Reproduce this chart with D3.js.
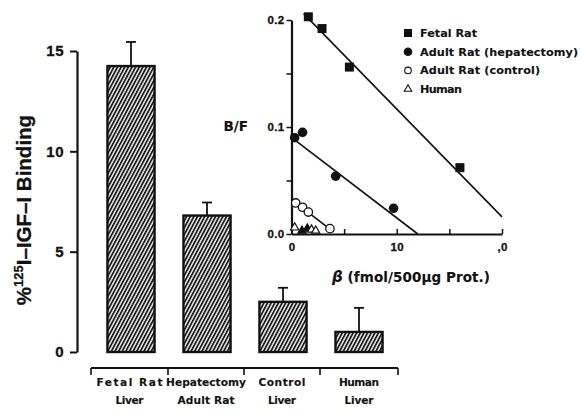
<!DOCTYPE html>
<html><head><meta charset="utf-8">
<script src="https://cdn.jsdelivr.net/npm/d3@7"></script>
<style>body{margin:0;background:#fff}svg{display:block}
text{font-family:"Liberation Sans",Arial,sans-serif;font-weight:bold;fill:#111;stroke:#111;stroke-width:0.3px}
text.dv{font-family:"DejaVu Sans",sans-serif;stroke-width:0.1px}</style>
</head><body>
<script>
// Bar chart data
const categories = [["Fetal Rat","Liver"],["Hepatectomy","Adult Rat"],["Control","Liver"],["Human","Liver"]];
const binding = [14.25, 6.8, 2.5, 1.0];
const bindingErr = [1.2, 0.65, 0.7, 1.2];
const barTicks = [0,5,10,15];

// Scatchard inset data
const fetalX = [1.6, 2.9, 5.5, 16.0];
const fetalY = [0.203, 0.192, 0.156, 0.062];
const hepX = [0.3, 1.05, 4.2, 9.7];
const hepY = [0.090, 0.095, 0.054, 0.024];
const ctrlX = [0.4, 1.05, 1.6, 3.65];
const ctrlY = [0.029, 0.025, 0.0205, 0.005];
const humX = [0.3, 1.0, 1.5, 1.9, 2.3];
const humY = [0.006, 0.003, 0.005, 0.004, 0.003];
// fitted lines (endpoints)
const fetalLineX = [1.15, 20.0], fetalLineY = [0.206, 0.016];
const hepLineX = [0.3, 12.0], hepLineY = [0.088, 0.0];
const ctrlLineX = [0.4, 4.0], ctrlLineY = [0.029, 0.002];
const insetYTicks = [0, 0.05, 0.1, 0.15, 0.2];
const insetYLabels = ["0.0","","0.1","","0.2"];
const insetXTicks = [0, 5, 10, 15, 20];
const insetXLabels = ["0","","10","",",0"];
const legendLabels = ["Fetal Rat","Adult Rat (hepatectomy)","Adult Rat (control)","Human"];

const W=581,H=414;
const svg=d3.select("body").append("svg").attr("width",W).attr("height",H);
const defs=svg.append("defs");
const pat=defs.append("pattern").attr("id","hatch").attr("patternUnits","userSpaceOnUse")
  .attr("width",3.2).attr("height",8).attr("patternTransform","rotate(28)");
pat.append("rect").attr("width",3.2).attr("height",8).attr("fill","#e8e8e8");
pat.append("rect").attr("x",0).attr("y",0).attr("width",1.7).attr("height",8).attr("fill","#1a1a1a");

// ---- Bar chart ----
const y=d3.scaleLinear().domain([0,15]).range([352,51]);
const x=d3.scaleBand().domain(d3.range(categories.length)).range([93,397]).paddingInner(0.38).paddingOuter(0.19);

const yAx=svg.append("g").attr("transform","translate(77,0)")
  .call(d3.axisLeft(y).tickValues(barTicks).tickSize(7).tickSizeOuter(0).tickPadding(6));
yAx.select(".domain").attr("stroke","#111").attr("stroke-width",2.2);
yAx.selectAll(".tick line").attr("stroke","#111").attr("stroke-width",2);
yAx.selectAll(".tick text").style("font-size","15px").style("letter-spacing","0.5px").attr("fill","#111");

const bars=svg.append("g");
binding.forEach((v,i)=>{
  const cx=x(i)+x.bandwidth()/2;
  bars.append("line").attr("x1",cx).attr("x2",cx).attr("y1",y(v)).attr("y2",y(v+bindingErr[i])).attr("stroke","#111").attr("stroke-width",1.8);
  bars.append("line").attr("x1",cx-5).attr("x2",cx+5).attr("y1",y(v+bindingErr[i])).attr("y2",y(v+bindingErr[i])).attr("stroke","#111").attr("stroke-width",1.8);
  bars.append("rect").attr("x",x(i)).attr("y",y(v)).attr("width",x.bandwidth()).attr("height",y(0)-y(v))
    .attr("fill","url(#hatch)").attr("stroke","#111").attr("stroke-width",2.4);
});

// bottom category axis
const xb=svg.append("g");
xb.append("line").attr("x1",91).attr("x2",398).attr("y1",368).attr("y2",368).attr("stroke","#111").attr("stroke-width",2);
const bounds=[91,168,244,320,398];
bounds.forEach(b=>xb.append("line").attr("x1",b).attr("x2",b).attr("y1",368).attr("y2",375).attr("stroke","#111").attr("stroke-width",1.6));
const catW=[[66,28],[80,57],[47,28],[40,29]];
categories.forEach((c,i)=>{
  const cx=(bounds[i]+bounds[i+1])/2;
  c.forEach((t,j)=>xb.append("text").attr("class","dv").attr("x",cx).attr("y",386+j*17.5).attr("text-anchor","middle")
    .attr("textLength",catW[i][j]).attr("lengthAdjust","spacing")
    .style("font-size","10.6px").text(t));
});

// y title
const yt=svg.append("text").attr("transform","translate(31,210) rotate(-90)").attr("text-anchor","middle").style("font-size","20.5px");
yt.append("tspan").text("%");
yt.append("tspan").attr("dy",-8).style("font-size","13px").text("125");
yt.append("tspan").attr("dy",8).text("I–IGF–I Binding");

// ---- Inset ----
const ix=d3.scaleLinear().domain([0,20]).range([291.5,502]);
const iy=d3.scaleLinear().domain([0,0.2]).range([234,20]);
const iyAx=svg.append("g").attr("transform","translate(291.5,0)")
  .call(d3.axisLeft(iy).tickValues(insetYTicks).tickFormat((d,i)=>insetYLabels[i]).tickSize(5).tickSizeOuter(0).tickPadding(2));
const ixAx=svg.append("g").attr("transform","translate(0,234)")
  .call(d3.axisBottom(ix).tickValues(insetXTicks).tickFormat((d,i)=>insetXLabels[i]).tickSize(-5).tickSizeOuter(0).tickPadding(9));
[iyAx,ixAx].forEach(a=>{a.select(".domain").attr("stroke","#111").attr("stroke-width",2.2);
  a.selectAll(".tick line").attr("stroke","#111").attr("stroke-width",1.5);
  a.selectAll(".tick text").style("font-size","11.5px").style("letter-spacing","0.3px").attr("fill","#111");});

svg.append("text").attr("class","dv").attr("x",248).attr("y",131).attr("text-anchor","end").style("font-size","13.5px").text("B/F");
const xt=svg.append("text").attr("class","dv").attr("x",411).attr("y",282).attr("text-anchor","middle")
  .attr("textLength",158).attr("lengthAdjust","spacing").style("font-size","13.5px");
xt.append("tspan").style("font-style","italic").style("font-size","15px").text("β");
xt.append("tspan").text(" (fmol/500μg Prot.)");

const line=d3.line().x(d=>ix(d[0])).y(d=>iy(d[1]));
[[fetalLineX,fetalLineY],[hepLineX,hepLineY],[ctrlLineX,ctrlLineY]].forEach(([lx,ly])=>{
  svg.append("path").attr("d",line(lx.map((v,i)=>[v,ly[i]]))).attr("stroke","#111").attr("stroke-width",1.6).attr("fill","none");
});
const pts=svg.append("g");
fetalX.forEach((v,i)=>pts.append("rect").attr("x",ix(v)-4.5).attr("y",iy(fetalY[i])-4.5).attr("width",9).attr("height",9).attr("fill","#111"));
hepX.forEach((v,i)=>pts.append("circle").attr("cx",ix(v)).attr("cy",iy(hepY[i])).attr("r",4.8).attr("fill","#111"));
ctrlX.forEach((v,i)=>pts.append("circle").attr("cx",ix(v)).attr("cy",iy(ctrlY[i])).attr("r",4.2).attr("fill","#fff").attr("stroke","#111").attr("stroke-width",1.3));
const tri=d3.symbol().type(d3.symbolTriangle).size(30);
humX.forEach((v,i)=>pts.append("path").attr("d",tri()).attr("transform",`translate(${ix(v)},${iy(humY[i])})`).attr("fill",i===1||i===2?"#111":"#fff").attr("stroke","#111").attr("stroke-width",1.2));

// legend
const lg=svg.append("g");
const legW=[57,158,120,42];
legendLabels.forEach((t,i)=>{
  const ly=33+i*18.7, lx=408;
  if(i===0) lg.append("rect").attr("x",lx-4).attr("y",ly-4).attr("width",8).attr("height",8).attr("fill","#111");
  if(i===1) lg.append("circle").attr("cx",lx).attr("cy",ly).attr("r",4.3).attr("fill","#111");
  if(i===2) lg.append("circle").attr("cx",lx).attr("cy",ly).attr("r",3.3).attr("fill","#fff").attr("stroke","#111").attr("stroke-width",1.1);
  if(i===3) lg.append("path").attr("d",d3.symbol().type(d3.symbolTriangle).size(24)()).attr("transform",`translate(${lx},${ly})`).attr("fill","#fff").attr("stroke","#111").attr("stroke-width",1.1);
  lg.append("text").attr("class","dv").attr("x",lx+12).attr("y",ly+4).attr("textLength",legW[i]).attr("lengthAdjust","spacing").style("font-size","11.2px").text(t);
});
</script>
</body></html>
